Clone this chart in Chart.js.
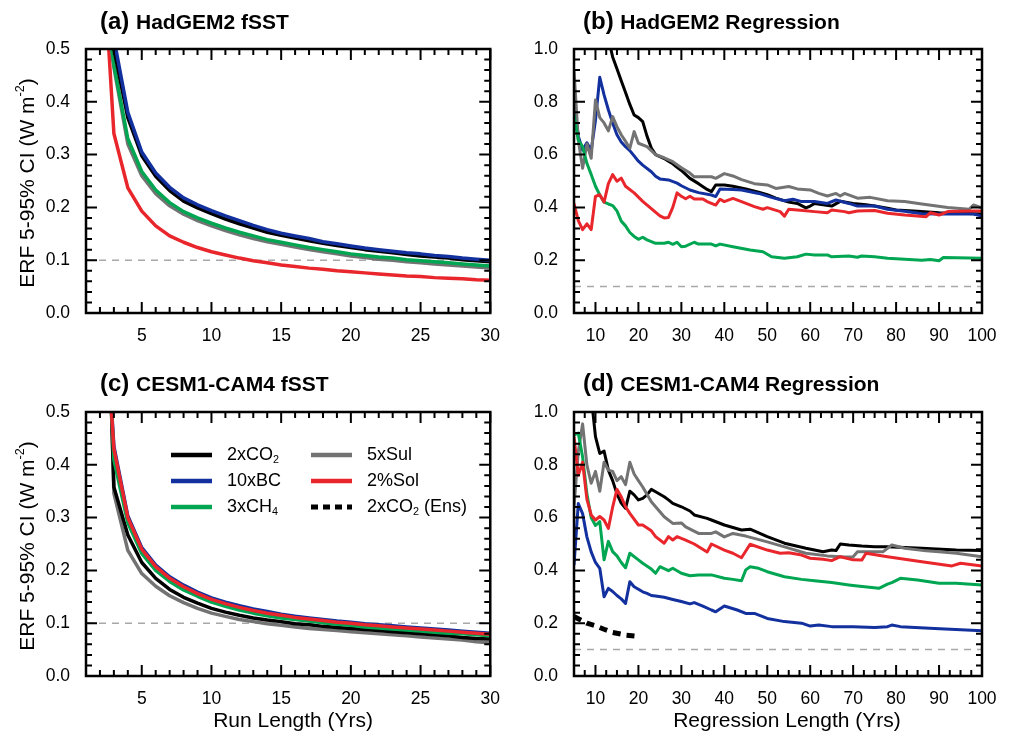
<!DOCTYPE html>
<html lang="en">
<head>
  <meta charset="UTF-8">
  <title>ERF 5-95% CI vs run / regression length</title>
  <script src="https://cdn.jsdelivr.net/npm/chart.js"></script>
  <style>
    body { margin: 0; background: #fff; }
    #wrap { position: relative; width: 1010px; height: 733px; }
    canvas { position: absolute; }
  </style>
</head>
<body>
  <div id="wrap">
    <canvas id="panelA" width="505" height="345" style="left:0;top:0"></canvas>
    <canvas id="panelB" width="505" height="345" style="left:505px;top:0"></canvas>
    <canvas id="panelC" width="505" height="388" style="left:0;top:345px"></canvas>
    <canvas id="panelD" width="505" height="388" style="left:505px;top:345px"></canvas>
  </div>

  <script>
    // ---- data ----
    const runLength = [2,3,4,5,6,7,8,9,10,11,12,13,14,15,16,17,18,19,20,21,22,23,24,25,26,27,28,29,30];
    const runTicks = [5, 10, 15, 20, 25, 30];
    const regTicks = [10, 20, 30, 40, 50, 60, 70, 80, 90, 100];
    const refLevel = 0.1;

    // (a) HadGEM2 fSST
    const aCO2 = [0.72,0.50,0.37,0.298,0.259,0.232,0.212,0.199,0.188,0.178,0.169,0.161,0.153,0.147,0.142,0.137,0.132,0.128,0.124,0.120,0.117,0.114,0.111,0.108,0.106,0.104,0.101,0.099,0.097];
    const aBC  = [0.75,0.52,0.38,0.305,0.265,0.238,0.218,0.205,0.194,0.184,0.175,0.166,0.158,0.151,0.146,0.141,0.135,0.131,0.127,0.123,0.120,0.117,0.114,0.112,0.109,0.107,0.104,0.102,0.100];
    const aCH4 = [0.68,0.47,0.33,0.268,0.233,0.209,0.192,0.180,0.170,0.161,0.153,0.146,0.139,0.134,0.129,0.124,0.120,0.116,0.112,0.109,0.106,0.104,0.101,0.099,0.097,0.095,0.093,0.091,0.089];
    const aSul = [0.66,0.465,0.32,0.260,0.226,0.203,0.187,0.175,0.165,0.156,0.148,0.141,0.135,0.130,0.125,0.120,0.116,0.112,0.108,0.105,0.102,0.100,0.097,0.095,0.093,0.091,0.089,0.087,0.085];
    const aSol = [0.78,0.34,0.237,0.193,0.165,0.146,0.134,0.124,0.116,0.110,0.104,0.099,0.095,0.091,0.088,0.085,0.083,0.080,0.078,0.076,0.074,0.072,0.070,0.069,0.067,0.066,0.065,0.063,0.062];

    // (c) CESM1-CAM4 fSST
    const cCO2 = [1.19,0.358,0.267,0.215,0.185,0.164,0.149,0.138,0.128,0.121,0.115,0.110,0.106,0.103,0.099,0.097,0.094,0.092,0.090,0.088,0.086,0.084,0.082,0.080,0.078,0.076,0.073,0.071,0.070];
    const cBC  = [0.86,0.435,0.303,0.243,0.210,0.188,0.172,0.159,0.148,0.140,0.133,0.127,0.122,0.117,0.113,0.110,0.107,0.104,0.102,0.099,0.097,0.095,0.093,0.091,0.089,0.087,0.085,0.083,0.081];
    const cCH4 = [0.95,0.41,0.290,0.232,0.200,0.179,0.163,0.151,0.140,0.132,0.125,0.119,0.114,0.110,0.107,0.104,0.101,0.098,0.096,0.093,0.091,0.089,0.087,0.085,0.083,0.081,0.080,0.078,0.076];
    const cSul = [1.25,0.346,0.238,0.194,0.170,0.152,0.139,0.128,0.119,0.113,0.107,0.103,0.099,0.096,0.093,0.090,0.088,0.086,0.084,0.082,0.080,0.078,0.076,0.074,0.072,0.070,0.068,0.065,0.063];
    const cSol = [0.84,0.43,0.300,0.240,0.207,0.185,0.169,0.156,0.145,0.137,0.130,0.124,0.119,0.115,0.111,0.108,0.105,0.102,0.100,0.097,0.095,0.093,0.091,0.089,0.087,0.085,0.083,0.081,0.079];

    // (b) HadGEM2 regression, [length, CI]
    const bCO2 = [[13,1.04],[14,0.97],[15,0.925],[16,0.88],[17,0.835],[18,0.79],[19,0.75],[20,0.74],[21,0.725],[22,0.67],[23,0.625],[24,0.60],[25,0.592],[26,0.585],[27,0.575],[28,0.565],[29,0.552],[30,0.54],[32,0.51],[34,0.49],[36,0.468],[37,0.46],[38,0.485],[40,0.485],[42,0.48],[45,0.47],[48,0.458],[50,0.448],[52,0.435],[55,0.42],[57,0.415],[59,0.398],[60,0.405],[61,0.415],[63,0.41],[65,0.405],[67,0.423],[70,0.415],[73,0.41],[75,0.405],[78,0.397],[80,0.39],[85,0.385],[90,0.38],[95,0.378],[100,0.375]];
    const bBC  = [[5,0.807],[6,0.67],[7,0.617],[8,0.645],[9,0.615],[10,0.73],[11,0.893],[12,0.826],[13,0.77],[14,0.72],[15,0.675],[16,0.648],[17,0.63],[18,0.615],[19,0.595],[20,0.575],[21,0.56],[23,0.535],[24,0.518],[25,0.508],[27,0.504],[29,0.492],[30,0.482],[32,0.466],[34,0.456],[37,0.447],[38,0.441],[39,0.47],[42,0.468],[44,0.466],[48,0.453],[51,0.438],[54,0.425],[56,0.431],[58,0.422],[61,0.422],[64,0.415],[66,0.428],[69,0.415],[71,0.405],[75,0.405],[78,0.393],[82,0.385],[86,0.376],[90,0.375],[98,0.375],[100,0.367]];
    const bCH4 = [[5,0.75],[6,0.655],[7,0.63],[8,0.567],[9,0.525],[10,0.48],[11,0.447],[12,0.42],[13,0.413],[14,0.407],[15,0.387],[16,0.348],[17,0.33],[18,0.305],[19,0.29],[20,0.279],[21,0.287],[22,0.277],[24,0.264],[26,0.264],[27,0.268],[28,0.26],[29,0.268],[30,0.251],[31,0.253],[33,0.268],[34,0.261],[37,0.261],[38,0.254],[39,0.261],[42,0.251],[46,0.239],[49,0.232],[51,0.213],[54,0.207],[57,0.213],[59,0.223],[61,0.22],[64,0.22],[65,0.213],[69,0.216],[71,0.211],[72,0.216],[75,0.213],[78,0.207],[86,0.20],[88,0.203],[90,0.198],[91,0.21],[100,0.207]];
    const bSul = [[5,0.92],[6,0.655],[7,0.548],[8,0.64],[9,0.586],[10,0.807],[11,0.74],[12,0.72],[13,0.69],[14,0.744],[15,0.706],[16,0.675],[17,0.65],[18,0.624],[19,0.687],[20,0.643],[22,0.63],[24,0.60],[26,0.588],[28,0.573],[30,0.55],[32,0.53],[33,0.516],[35,0.516],[37,0.516],[38,0.51],[40,0.528],[42,0.519],[44,0.505],[47,0.49],[50,0.485],[52,0.472],[55,0.479],[57,0.47],[60,0.466],[62,0.453],[64,0.443],[66,0.453],[67,0.443],[68,0.453],[71,0.435],[74,0.438],[78,0.425],[82,0.422],[86,0.413],[92,0.40],[97,0.393],[98,0.409],[100,0.398]];
    const bSol = [[5,0.414],[6,0.35],[7,0.316],[8,0.338],[9,0.316],[10,0.442],[11,0.448],[12,0.42],[13,0.49],[14,0.524],[15,0.499],[16,0.511],[17,0.48],[19,0.455],[21,0.423],[23,0.395],[25,0.368],[26,0.36],[27,0.362],[28,0.40],[29,0.455],[30,0.442],[31,0.433],[32,0.442],[33,0.432],[35,0.432],[36,0.422],[38,0.409],[39,0.431],[40,0.422],[42,0.434],[44,0.422],[47,0.403],[49,0.393],[50,0.399],[53,0.384],[54,0.367],[55,0.393],[57,0.39],[61,0.384],[64,0.38],[65,0.39],[68,0.384],[69,0.38],[71,0.386],[75,0.388],[78,0.378],[82,0.371],[87,0.365],[88,0.38],[90,0.371],[92,0.384],[98,0.386],[100,0.386]];

    // (d) CESM1-CAM4 regression, [length, CI]
    const dCO2 = [[9,1.06],[10,0.907],[11,0.843],[12,0.852],[13,0.78],[14,0.74],[15,0.69],[16,0.655],[17,0.635],[18,0.70],[19,0.686],[20,0.667],[21,0.673],[22,0.686],[23,0.707],[24,0.698],[26,0.679],[27,0.667],[28,0.654],[30,0.641],[32,0.625],[33,0.61],[36,0.597],[37,0.591],[40,0.572],[44,0.553],[46,0.556],[50,0.528],[54,0.503],[59,0.484],[63,0.471],[65,0.477],[66,0.475],[67,0.50],[69,0.496],[72,0.492],[75,0.49],[78,0.49],[86,0.484],[94,0.477],[100,0.475]];
    const dBC  = [[5,0.42],[6,0.653],[7,0.615],[8,0.527],[9,0.47],[10,0.43],[11,0.408],[12,0.30],[13,0.332],[14,0.32],[15,0.305],[16,0.292],[17,0.275],[18,0.357],[19,0.338],[21,0.319],[22,0.313],[23,0.305],[24,0.303],[26,0.298],[28,0.29],[30,0.282],[32,0.273],[33,0.278],[35,0.265],[37,0.25],[38,0.243],[40,0.265],[43,0.25],[45,0.237],[47,0.237],[50,0.218],[54,0.206],[58,0.20],[60,0.189],[62,0.193],[65,0.187],[70,0.187],[75,0.184],[78,0.187],[79,0.193],[81,0.187],[89,0.18],[100,0.171]];
    const dCH4 = [[5,0.913],[6,0.92],[7,0.83],[8,0.69],[9,0.60],[10,0.57],[11,0.585],[12,0.44],[13,0.51],[14,0.471],[15,0.455],[16,0.43],[17,0.41],[18,0.465],[20,0.44],[21,0.427],[23,0.405],[24,0.389],[25,0.414],[27,0.399],[28,0.408],[30,0.389],[32,0.38],[34,0.383],[37,0.383],[40,0.37],[42,0.366],[44,0.361],[45,0.402],[46,0.414],[48,0.408],[50,0.395],[54,0.376],[58,0.366],[61,0.361],[65,0.354],[69,0.345],[71,0.341],[76,0.332],[78,0.348],[79,0.354],[81,0.37],[85,0.364],[90,0.351],[94,0.351],[100,0.345]];
    const dSul = [[5,0.64],[6,0.85],[7,0.955],[8,0.80],[9,0.73],[10,0.775],[11,0.70],[12,0.81],[13,0.78],[14,0.775],[15,0.74],[16,0.755],[17,0.725],[18,0.81],[19,0.765],[20,0.74],[21,0.716],[23,0.66],[26,0.603],[28,0.578],[30,0.58],[31,0.565],[34,0.54],[37,0.54],[38,0.546],[40,0.527],[42,0.54],[45,0.53],[50,0.508],[54,0.489],[59,0.465],[64,0.455],[68,0.451],[70,0.452],[71,0.471],[77,0.471],[79,0.496],[82,0.484],[87,0.474],[90,0.471],[94,0.465],[100,0.452]];
    const dSol = [[5,0.907],[6,0.76],[7,0.81],[8,0.67],[9,0.61],[10,0.591],[11,0.604],[12,0.591],[13,0.559],[14,0.64],[15,0.707],[16,0.679],[17,0.641],[18,0.616],[20,0.572],[21,0.572],[23,0.55],[24,0.528],[26,0.503],[27,0.528],[28,0.515],[29,0.528],[31,0.515],[33,0.50],[36,0.47],[37,0.50],[40,0.477],[42,0.465],[44,0.448],[46,0.499],[50,0.477],[53,0.465],[55,0.467],[58,0.458],[60,0.446],[63,0.442],[65,0.437],[67,0.452],[70,0.44],[72,0.439],[73,0.465],[78,0.452],[86,0.433],[93,0.417],[95,0.427],[100,0.417]];
    const dCO2Ens = [[5,0.225],[8,0.20],[10,0.19],[12,0.177],[14,0.165],[17,0.155],[20,0.15]];

    // ---- style ----
    const FONT = "'Liberation Sans', Arial, Helvetica, sans-serif";
    Chart.defaults.font.family = FONT;
    const COL = { co2: '#000000', bc: '#12309e', ch4: '#00a651', sul: '#737373', sol: '#e8262b', ref: '#a8a8a8' };

    function series(pts, color, width, dash) {
      return {
        data: pts.map(p => ({ x: p[0], y: p[1] })),
        borderColor: color, borderWidth: width, borderDash: dash || [],
        pointRadius: 0, tension: 0, fill: false, clip: 0,
        borderJoinStyle: 'round'
      };
    }
    const byRun = arr => runLength.map((n, i) => [n, arr[i]]);

    // draw text made of pieces: 0 = normal, 1 = subscript, 2 = superscript
    function richText(ctx, parts, x, y, size) {
      let cx = x;
      parts.forEach(([txt, kind]) => {
        const s = kind ? size * 0.6 : size;
        ctx.font = s + 'px ' + FONT;
        const dy = kind === 1 ? size * 0.28 : kind === 2 ? -size * 0.38 : 0;
        ctx.fillText(txt, cx, y + dy);
        cx += ctx.measureText(txt).width;
      });
      return cx - x;
    }
    function richWidth(ctx, parts, size) {
      let w = 0;
      parts.forEach(([txt, kind]) => {
        ctx.font = (kind ? size * 0.6 : size) + 'px ' + FONT;
        w += ctx.measureText(txt).width;
      });
      return w;
    }
    const yTitle = [['ERF 5-95% CI (W m', 0], ['-2', 2], [')', 0]];

    // frame, inward ticks and panel text
    function deco(o) {
      return {
        id: 'deco',
        afterDatasetsDraw(chart) {
          const { ctx, chartArea: a, scales: { x, y } } = chart;
          const near = (list, v) => list.some(t => Math.abs(t.value - v) < 1e-6);
          ctx.save();
          ctx.strokeStyle = '#000';
          ctx.lineWidth = 2;
          ctx.beginPath();
          const nx = Math.round((x.max - x.min) / o.xMinor);
          for (let k = 0; k <= nx; k++) {
            const v = x.min + k * o.xMinor;
            const px = x.getPixelForValue(v);
            const len = near(x.ticks, v) ? 11 : 6;
            ctx.moveTo(px, a.bottom); ctx.lineTo(px, a.bottom - len);
            ctx.moveTo(px, a.top); ctx.lineTo(px, a.top + len);
          }
          const ny = Math.round((y.max - y.min) / o.yMinor);
          for (let k = 0; k <= ny; k++) {
            const v = y.min + k * o.yMinor;
            const py = y.getPixelForValue(v);
            const len = near(y.ticks, v) ? 11 : 6;
            ctx.moveTo(a.left, py); ctx.lineTo(a.left + len, py);
            ctx.moveTo(a.right, py); ctx.lineTo(a.right - len, py);
          }
          ctx.stroke();
          ctx.lineWidth = 2.5;
          ctx.strokeRect(a.left, a.top, a.right - a.left, a.bottom - a.top);
          ctx.restore();
        },
        afterDraw(chart) {
          const { ctx, chartArea: a } = chart;
          ctx.save();
          ctx.fillStyle = '#000';
          ctx.textBaseline = 'alphabetic';
          ctx.textAlign = 'left';
          ctx.font = 'bold 24px ' + FONT;
          ctx.fillText(o.tag, o.titleX, o.titleY);
          const w = ctx.measureText(o.tag + ' ').width;
          ctx.font = 'bold 21px ' + FONT;
          ctx.fillText(o.name, o.titleX + w, o.titleY);

          if (o.yLabel) {
            ctx.save();
            ctx.translate(o.yLabelX, (a.top + a.bottom) / 2 + 2);
            ctx.rotate(-Math.PI / 2);
            ctx.textBaseline = 'middle';
            const tw = richWidth(ctx, o.yLabel, 21);
            richText(ctx, o.yLabel, -tw / 2, 0, 21);
            ctx.restore();
          }
          if (o.xLabel) {
            ctx.font = '21px ' + FONT;
            ctx.textAlign = 'center';
            ctx.fillText(o.xLabel, (a.left + a.right) / 2 + o.xLabelShift, o.xLabelY);
          }
          if (o.legend) {
            ctx.textAlign = 'left';
            ctx.textBaseline = 'middle';
            o.legend.forEach(it => {
              const lx = a.left + it.col * 140 + 85;
              const ly = a.top + 43 + it.row * 26;
              ctx.save();
              ctx.strokeStyle = it.color;
              ctx.lineWidth = it.dash ? 5 : 4.5;
              ctx.setLineDash(it.dash || []);
              ctx.beginPath();
              ctx.moveTo(lx, ly); ctx.lineTo(lx + 41, ly);
              ctx.stroke();
              ctx.restore();
              richText(ctx, it.label, lx + 56, ly, 18);
            });
          }
          ctx.restore();
        }
      };
    }

    function makePanel(id, p) {
      const tickFont = { size: 17.5, family: FONT };
      new Chart(document.getElementById(id), {
        type: 'line',
        data: { datasets: p.datasets },
        options: {
          responsive: false,
          animation: false,
          devicePixelRatio: 1,
          layout: { padding: { top: p.top, right: p.right, left: 0, bottom: 0 } },
          plugins: { legend: { display: false }, tooltip: { enabled: false } },
          scales: {
            x: {
              type: 'linear', min: p.xMin, max: p.xMax,
              afterBuildTicks: s => { s.ticks = p.xTicks.map(v => ({ value: v })); },
              afterFit: s => { s.height = p.xAxisH; },
              grid: { display: false }, border: { display: false },
              ticks: { color: '#000', font: tickFont, padding: 5, maxRotation: 0, autoSkip: false, callback: v => String(v) }
            },
            y: {
              type: 'linear', min: 0, max: p.yMax,
              afterFit: s => { s.width = p.yAxisW; },
              grid: { display: false }, border: { display: false },
              ticks: { color: '#000', font: tickFont, padding: 8, stepSize: p.yStep, callback: v => v.toFixed(1) }
            }
          }
        },
        plugins: [deco(p.deco)]
      });
    }

    const legendC = [
      { label: [['2xCO', 0], ['2', 1]], color: COL.co2, col: 0, row: 0 },
      { label: [['10xBC', 0]], color: COL.bc, col: 0, row: 1 },
      { label: [['3xCH', 0], ['4', 1]], color: COL.ch4, col: 0, row: 2 },
      { label: [['5xSul', 0]], color: COL.sul, col: 1, row: 0 },
      { label: [['2%Sol', 0]], color: COL.sol, col: 1, row: 1 },
      { label: [['2xCO', 0], ['2', 1], [' (Ens)', 0]], color: COL.co2, col: 1, row: 2, dash: [7, 5] }
    ];

    // (a)
    makePanel('panelA', {
      top: 49, right: 12, yAxisW: 86, xAxisH: 32,
      xMin: 1, xMax: 30, xTicks: runTicks, yMax: 0.5, yStep: 0.1,
      datasets: [
        series(byRun(aBC), COL.bc, 3.5),
        series(byRun(aCO2), COL.co2, 3.5),
        series(byRun(aCH4), COL.ch4, 3.5),
        series(byRun(aSul), COL.sul, 3.5),
        series(byRun(aSol), COL.sol, 3.5),
        series([[1, refLevel], [30, refLevel]], COL.ref, 1.5, [7, 6])
      ],
      deco: { xMinor: 1, yMinor: 0.02, tag: '(a)', name: 'HadGEM2 fSST', titleX: 100, titleY: 29, yLabel: yTitle, yLabelX: 28 }
    });

    // (b)
    makePanel('panelB', {
      top: 49, right: 28, yAxisW: 69, xAxisH: 32,
      xMin: 5, xMax: 100, xTicks: regTicks, yMax: 1.0, yStep: 0.2,
      datasets: [
        series(bSol, COL.sol, 3),
        series(bCH4, COL.ch4, 3),
        series(bSul, COL.sul, 3),
        series(bBC, COL.bc, 3),
        series(bCO2, COL.co2, 3),
        series([[5, refLevel], [100, refLevel]], COL.ref, 1.5, [7, 6])
      ],
      deco: { xMinor: 2.5, yMinor: 0.04, tag: '(b)', name: 'HadGEM2 Regression', titleX: 78, titleY: 29 }
    });

    // (c)
    makePanel('panelC', {
      top: 67, right: 12, yAxisW: 86, xAxisH: 57,
      xMin: 1, xMax: 30, xTicks: runTicks, yMax: 0.5, yStep: 0.1,
      datasets: [
        series(byRun(cSol), COL.sol, 3.5),
        series(byRun(cCH4), COL.ch4, 3.5),
        series(byRun(cBC), COL.bc, 3.5),
        series(byRun(cCO2), COL.co2, 3.5),
        series(byRun(cSul), COL.sul, 3.5),
        series([[1, refLevel], [30, refLevel]], COL.ref, 1.5, [7, 6])
      ],
      deco: { xMinor: 1, yMinor: 0.02, tag: '(c)', name: 'CESM1-CAM4 fSST', titleX: 100, titleY: 46,
              yLabel: yTitle, yLabelX: 28, xLabel: 'Run Length (Yrs)', xLabelY: 382, xLabelShift: 5, legend: legendC }
    });

    // (d)
    makePanel('panelD', {
      top: 67, right: 28, yAxisW: 69, xAxisH: 57,
      xMin: 5, xMax: 100, xTicks: regTicks, yMax: 1.0, yStep: 0.2,
      datasets: [
        series(dSol, COL.sol, 3),
        series(dCH4, COL.ch4, 3),
        series(dBC, COL.bc, 3),
        series(dSul, COL.sul, 3),
        series(dCO2, COL.co2, 3),
        series(dCO2Ens, COL.co2, 5, [8, 6]),
        series([[5, refLevel], [100, refLevel]], COL.ref, 1.5, [7, 6])
      ],
      deco: { xMinor: 2.5, yMinor: 0.04, tag: '(d)', name: 'CESM1-CAM4 Regression', titleX: 78, titleY: 46,
              xLabel: 'Regression Length (Yrs)', xLabelY: 382, xLabelShift: 9 }
    });
  </script>
</body>
</html>
